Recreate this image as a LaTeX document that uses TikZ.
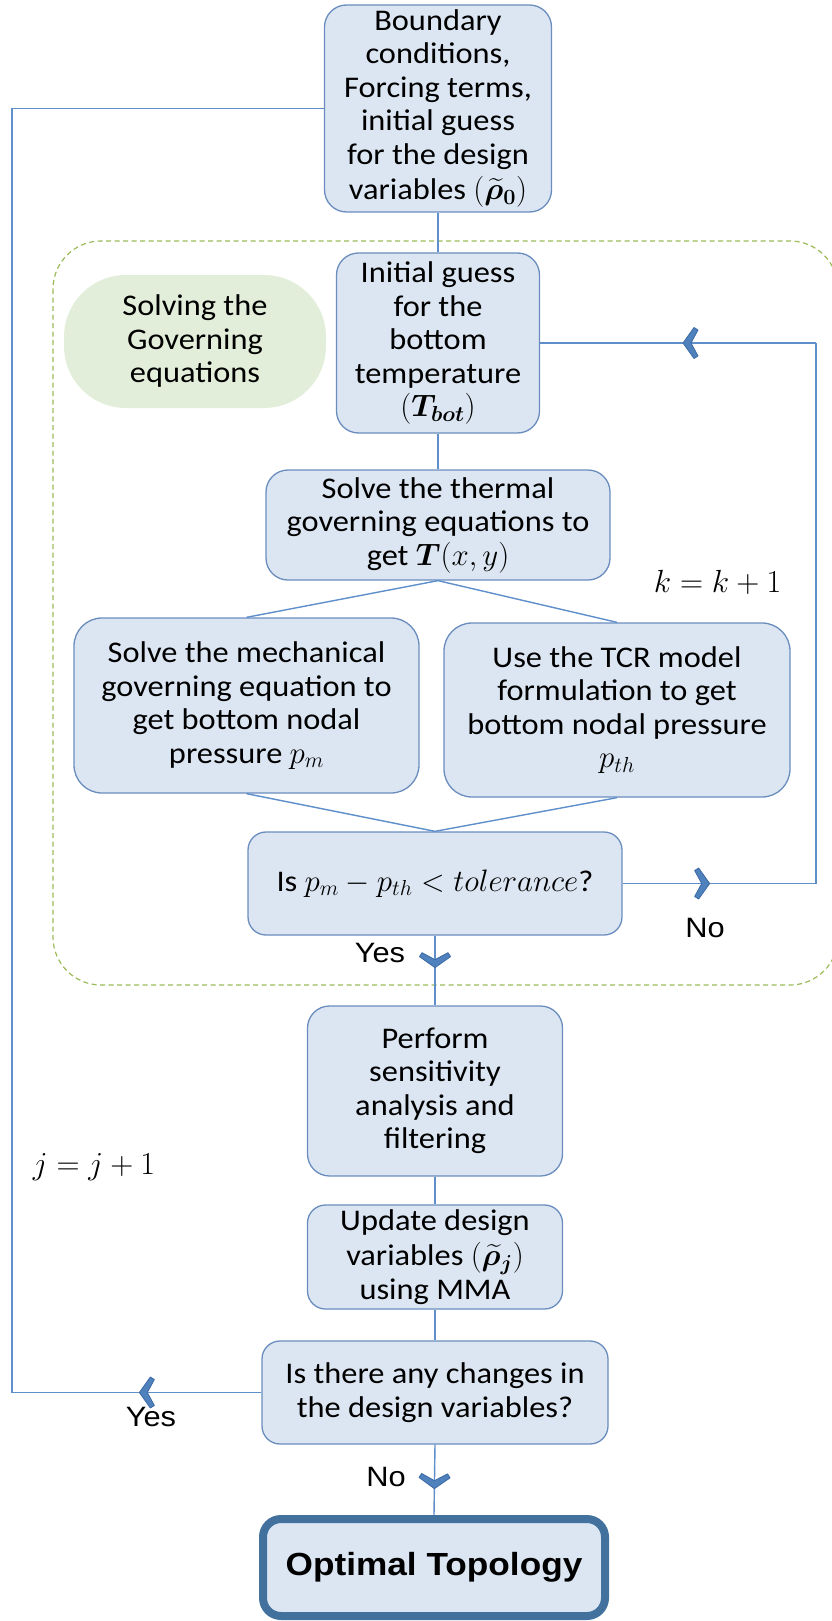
\RequirePackage{fix-cm}
\documentclass[tikz,border=0pt]{standalone}
\usepackage[no-math]{fontspec}
\setmainfont{Carlito}[FakeStretch=1.08]
\newfontfamily\arialfont{Liberation Sans}[FakeStretch=1.1]
\usepackage{amsmath,bm}
\usetikzlibrary{arrows.meta,decorations.markings}
\definecolor{boxfill}{HTML}{DCE6F2}
\definecolor{boxline}{HTML}{6A8DBE}
\definecolor{connline}{HTML}{5E8FCB}
\definecolor{arrowfill}{HTML}{4F81BD}
\definecolor{arrowline}{HTML}{3C6AA5}
\definecolor{dashgreen}{HTML}{9BBB59}
\definecolor{greenfill}{HTML}{E2EEDA}
\definecolor{optline}{HTML}{41719C}
\newcommand\boxfont{\fontsize{30}{33.5}\selectfont}
\newcommand\mathbig[1]{{\fontsize{31}{33.5}\selectfont$#1$}}
\begin{document}
\begin{tikzpicture}[x=1pt,y=-1pt,
  box/.style={draw=boxline, fill=boxfill, line width=1.3pt, rounded corners=22pt, align=center, inner sep=0pt, font=\boxfont},
  conn/.style={draw=connline, line width=1.4pt},
  chevmark/.style={postaction={decorate}, decoration={markings, mark=at position #1 with {\filldraw[fill=arrowfill, draw=arrowline, line width=0.8pt, line join=round] (0pt,0pt) -- (-11pt,15.5pt) -- (-15pt,13pt) -- (-8pt,0pt) -- (-15pt,-13pt) -- (-11pt,-15.5pt) -- cycle;}}},
  lbl/.style={font=\arialfont\fontsize{28}{30}\selectfont, inner sep=0pt},
  mlbl/.style={font=\fontsize{32}{36}\selectfont, inner sep=0pt},
]
\useasboundingbox (0,0) rectangle (831,1621);
% dashed region
\draw[draw=dashgreen, line width=1.2pt, dash pattern=on 5pt off 3.5pt, rounded corners=48pt] (53,241) rectangle (838,985);
\node[fill=greenfill, rounded corners=62pt, minimum width=262pt, minimum height=133pt, inner sep=0pt, align=center, font=\boxfont] (gov) at (195,341.5) {Solving the\\Governing\\equations};
% nodes
\node[box, minimum width=227pt, minimum height=207pt] (b1) at (438,108.5) {Boundary\\conditions,\\Forcing terms,\\initial guess\\for the design\\[2pt]variables \mathbig{(\widetilde{\bm\rho}_{\bm 0})}};
\node[box, minimum width=203pt, minimum height=180pt] (b2) at (438,343) {Initial guess\\for the\\bottom\\temperature\\\mathbig{(\bm{T_{bot}})}};
\node[box, minimum width=344pt, minimum height=110pt] (b3) at (438,525) {Solve the thermal\\governing equations to\\get \mathbig{\bm T(x,y)}};
\node[box, rounded corners=28pt, minimum width=345pt, minimum height=175pt] (b4) at (246.5,705.5) {Solve the mechanical\\governing equation to\\get bottom nodal\\pressure \mathbig{p_m}};
\node[box, rounded corners=28pt, minimum width=346pt, minimum height=174pt] (b5) at (617,710) {Use the TCR model\\formulation to get\\bottom nodal pressure\\\mathbig{p_{th}}};
\node[box, rounded corners=18pt, minimum width=374pt, minimum height=103pt] (b6) at (435,883.5) {Is \mathbig{p_m - p_{th} < tolerance}?};
\node[box, minimum width=255pt, minimum height=170pt] (b7) at (435,1091) {Perform\\sensitivity\\analysis and\\filtering};
\node[box, rounded corners=18pt, minimum width=255pt, minimum height=104pt] (b8) at (435,1257) {Update design\\[2pt]variables \mathbig{(\widetilde{\bm\rho}_{\bm j})}\\using MMA};
\node[box, rounded corners=18pt, minimum width=346pt, minimum height=103pt] (b9) at (435,1392.5) {Is there any changes in\\the design variables?};
\node[draw=optline, fill=boxfill, line width=8pt, rounded corners=18pt, minimum width=342pt, minimum height=97pt, inner sep=0pt, font=\arialfont\bfseries\fontsize{32}{36}\selectfont] (bo) at (434,1567.5) {Optimal Topology};
% labels
\node[mlbl] (kl) at (717.5,582) {$k=k+1$};
\node[mlbl] (jl) at (94,1167) {$j=j+1$};
\node[lbl] (yes1) at (380,953) {Yes};
\node[lbl] (no1) at (705,928) {No};
\node[lbl] (yes2) at (151,1417) {Yes};
\node[lbl] (no2) at (386,1477) {No};
% connectors
\draw[conn] (b1.south) -- (b2.north);
\draw[conn] (b2.south) -- (b3.north);
\draw[conn] (b3.south) -- (b4.north);
\draw[conn] (b3.south) -- (b5.north);
\draw[conn] (b4.south) -- (b6.north);
\draw[conn] (b5.south) -- (b6.north);
\draw[conn, chevmark=32pt] (b6.south) -- (b7.north);
\draw[conn] (b7.south) -- (b8.north);
\draw[conn] (b8.south) -- (b9.north);
\draw[conn, chevmark=44pt] (b9.south) -- (bo.north);
\coordinate (ylt) at (12,108.5);
\draw[conn, chevmark=122pt] (b9.west) -| (ylt) -- (b1.west);
\coordinate (nrt) at (816,343);
\draw[conn, chevmark=87pt] (b6.east) -| (nrt);
\draw[conn, chevmark=133pt] (nrt) -- (b2.east);
\end{tikzpicture}
\end{document}
